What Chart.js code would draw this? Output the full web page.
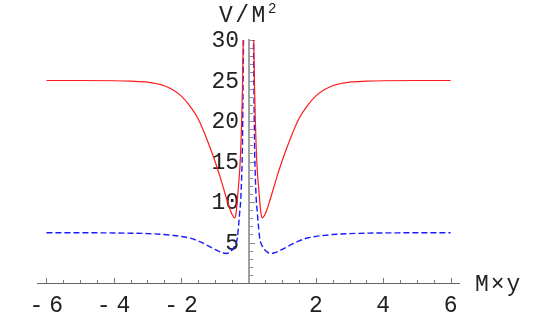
<!DOCTYPE html>
<html>
<head>
<meta charset="utf-8">
<script src="https://cdn.jsdelivr.net/npm/chart.js@4"></script>
<style>
  html,body{margin:0;padding:0;background:#fff;}
  canvas{display:block;}
</style>
</head>
<body>
<canvas id="myChart" width="553" height="319"></canvas>
<script>
// sampled positions along M×y (gap at 0 where both curves blow up)
const xValues = [-6, -5, -4, -3.5, -3, -2.5, -2.25, -2, -1.75, -1.5, -1.25, -1, -0.85, -0.75, -0.65, -0.55, -0.48, -0.42, -0.37, -0.33, -0.29, -0.26, -0.23, -0.2, -0.18, -0.16, -0.14,
  0,
  0.14, 0.16, 0.18, 0.2, 0.23, 0.26, 0.29, 0.33, 0.37, 0.42, 0.48, 0.55, 0.65, 0.75, 0.85, 1, 1.25, 1.5, 1.75, 2, 2.25, 2.5, 3, 3.5, 4, 5, 6];
// red solid curve V/M^2
const redValues = [25.0, 25.0, 24.97, 24.92, 24.8, 24.35, 23.85, 23.1, 21.9, 20.3, 17.9, 15.1, 13.2, 11.8, 10.4, 9.1, 8.4, 8.05, 8.6, 10.3, 12.3, 14.0, 16.5, 20.5, 24, 29, 35,
  null,
  35, 29, 24, 20.5, 16.5, 14.0, 12.3, 10.3, 8.6, 8.05, 8.4, 9.1, 10.4, 11.8, 13.2, 15.1, 17.9, 20.3, 21.9, 23.1, 23.85, 24.35, 24.8, 24.92, 24.97, 25.0, 25.0];
// blue dashed curve
const blueValues = [6.2, 6.2, 6.18, 6.15, 6.1, 5.98, 5.88, 5.75, 5.55, 5.2, 4.7, 4.15, 3.85, 3.7, 3.65, 3.85, 4.1, 4.5, 4.9, 5.6, 7.3, 8.8, 10.3, 13.5, 17, 25, 34,
  null,
  34, 25, 17, 13.5, 10.3, 8.8, 7.3, 5.6, 4.9, 4.5, 4.1, 3.85, 3.65, 3.7, 3.85, 4.15, 4.7, 5.2, 5.55, 5.75, 5.88, 5.98, 6.1, 6.15, 6.18, 6.2, 6.2];

// tick labels
const xTicks = [-6, -4, -2, 2, 4, 6];
const xTickLabels = ['-6', '-4', '-2', '2', '4', '6'];
const yTicks = [5, 10, 15, 20, 25, 30];
const yTickLabels = ['5', '10', '15', '20', '25', '30'];

const FONT = '"Liberation Mono", "DejaVu Sans Mono", monospace';

// Mathematica style axes: crossing at origin, ticks pointing inward
const axesPlugin = {
  id: 'mmaAxes',
  beforeDatasetsDraw(chart) {
    const {ctx, scales: {x, y}} = chart;
    const x0 = Math.round(x.getPixelForValue(0));
    const y0 = Math.round(y.getPixelForValue(0));
    ctx.save();
    // x axis line
    ctx.strokeStyle = '#666';
    ctx.lineWidth = 1;
    ctx.beginPath();
    ctx.moveTo(x.left, y0 + 0.5);
    ctx.lineTo(x.right, y0 + 0.5);
    ctx.stroke();
    // x ticks, minor every 0.5
    ctx.strokeStyle = '#777';
    for (let k = -12; k <= 12; k++) {
      if (k === 0) continue;
      const v = k / 2;
      const px = Math.round(x.getPixelForValue(v)) + 0.5;
      const len = xTicks.includes(v) ? 5 : 3;
      ctx.beginPath();
      ctx.moveTo(px, y0);
      ctx.lineTo(px, y0 - len);
      ctx.stroke();
    }
    // y axis line
    ctx.strokeStyle = '#a0a0a0';
    ctx.lineWidth = 2;
    ctx.beginPath();
    ctx.moveTo(x0, y0);
    ctx.lineTo(x0, y.getPixelForValue(30) - 1);
    ctx.stroke();
    // y ticks, minor every 1
    ctx.strokeStyle = '#888';
    ctx.lineWidth = 1;
    for (let v = 1; v <= 30; v++) {
      const py = Math.round(y.getPixelForValue(v)) + 0.5;
      const len = yTicks.includes(v) ? 5 : 3;
      ctx.beginPath();
      ctx.moveTo(x0 + 1, py);
      ctx.lineTo(x0 + 1 + len, py);
      ctx.stroke();
    }
    // tick labels
    ctx.fillStyle = '#222';
    ctx.font = '23px ' + FONT;
    ctx.textBaseline = 'alphabetic';
    xTicks.forEach((v, i) => {
      const px = x.getPixelForValue(v);
      if (v < 0) {
        // wide gap between minus sign and digit like the original
        ctx.textAlign = 'left';
        ctx.letterSpacing = '6px';
        ctx.fillText(xTickLabels[i], px - 17, 312);
        ctx.letterSpacing = '0px';
      } else {
        ctx.textAlign = 'center';
        ctx.fillText(xTickLabels[i], px, 312);
      }
    });
    ctx.textAlign = 'right';
    ctx.textBaseline = 'middle';
    yTicks.forEach((v, i) => {
      ctx.fillText(yTickLabels[i], x0 - 10, y.getPixelForValue(v) + 1);
    });
    // axis titles
    ctx.textAlign = 'left';
    ctx.textBaseline = 'alphabetic';
    ctx.letterSpacing = '2.5px';
    ctx.fillText('V/M', 219, 22);
    ctx.letterSpacing = '0px';
    ctx.font = '14px ' + FONT;
    ctx.fillText('2', 268, 13);
    ctx.font = '23px ' + FONT;
    ctx.letterSpacing = '2px';
    ctx.fillText('M×y', 475, 291);
    ctx.restore();
  }
};

const ctx = document.getElementById('myChart').getContext('2d');
const myChart = new Chart(ctx, {
  type: 'line',
  data: {
    datasets: [
      {
        label: 'red',
        data: xValues.map((v, i) => ({x: v, y: redValues[i]})),
        borderColor: '#ff1a1a',
        borderWidth: 1.2,
        pointRadius: 0,
        cubicInterpolationMode: 'monotone',
        spanGaps: false,
        fill: false
      },
      {
        label: 'blue',
        data: xValues.map((v, i) => ({x: v, y: blueValues[i]})),
        borderColor: '#1a1aff',
        borderWidth: 1.4,
        borderDash: [6, 3],
        pointRadius: 0,
        cubicInterpolationMode: 'monotone',
        spanGaps: false,
        fill: false
      }
    ]
  },
  options: {
    responsive: false,
    animation: false,
    events: [],
    layout: {padding: {left: 37, right: 93, top: 40, bottom: 36}},
    scales: {
      x: {type: 'linear', min: -6.28, max: 6.28, display: false},
      y: {type: 'linear', min: 0, max: 30, display: false}
    },
    plugins: {
      legend: {display: false},
      tooltip: {enabled: false}
    }
  },
  plugins: [axesPlugin]
});
</script>
</body>
</html>
